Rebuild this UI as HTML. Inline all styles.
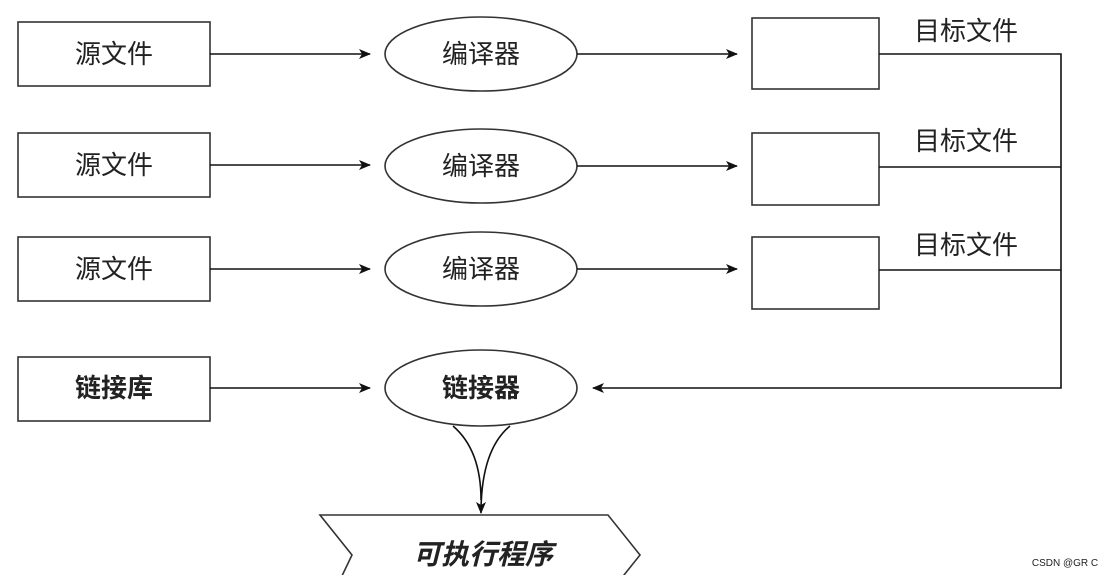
<!DOCTYPE html>
<html><head><meta charset="utf-8"><style>
body{margin:0;background:#fff;width:1108px;height:575px;overflow:hidden}
svg text{font-family:"Liberation Sans","Noto Sans CJK SC",sans-serif;fill:#222}
</style></head><body>
<svg width="1108" height="575" viewBox="0 0 1108 575" xmlns="http://www.w3.org/2000/svg">
<defs><marker id="a" markerWidth="12" markerHeight="10" refX="11" refY="5" orient="auto" markerUnits="userSpaceOnUse"><path d="M0,0 L12,5 L0,10 L3,5 Z" fill="#111"/></marker></defs>
<g stroke="#333" stroke-width="1.6" fill="#fff">
<rect x="18" y="22" width="192" height="64"/>
<rect x="18" y="133" width="192" height="64"/>
<rect x="18" y="237" width="192" height="64"/>
<rect x="18" y="357" width="192" height="64"/>
<ellipse cx="481" cy="54" rx="96" ry="37"/>
<ellipse cx="481" cy="166" rx="96" ry="37"/>
<ellipse cx="481" cy="269" rx="96" ry="37"/>
<ellipse cx="481" cy="388" rx="96" ry="38"/>
<rect x="752" y="18" width="127" height="71"/>
<rect x="752" y="133" width="127" height="72"/>
<rect x="752" y="237" width="127" height="72"/>
<polygon points="320,515 608,515 640,555 620,580 340,580 352,555"/>
</g>
<g stroke="#111" stroke-width="1.6" fill="none">
<line x1="210" y1="54" x2="370" y2="54" marker-end="url(#a)"/>
<line x1="210" y1="165" x2="370" y2="165" marker-end="url(#a)"/>
<line x1="210" y1="269" x2="370" y2="269" marker-end="url(#a)"/>
<line x1="210" y1="388" x2="370" y2="388" marker-end="url(#a)"/>
<line x1="577" y1="54" x2="737" y2="54" marker-end="url(#a)"/>
<line x1="577" y1="166" x2="737" y2="166" marker-end="url(#a)"/>
<line x1="577" y1="269" x2="737" y2="269" marker-end="url(#a)"/>
<path d="M879,54 H1061 V388 H593" marker-end="url(#a)"/>
<path d="M879,167 H1061 M879,270 H1061"/>
<path d="M453,426 Q481,450 481,500"/>
<path d="M510,426 Q481,450 481,513" marker-end="url(#a)"/>
</g>
<g font-size="26" text-anchor="middle">
<text x="114" y="63">源文件</text>
<text x="114" y="174">源文件</text>
<text x="114" y="278">源文件</text>
<text x="114" y="397" font-weight="bold">链接库</text>
<text x="481" y="63">编译器</text>
<text x="481" y="175">编译器</text>
<text x="481" y="278">编译器</text>
<text x="481" y="397" font-weight="bold">链接器</text>
<text x="966" y="40">目标文件</text>
<text x="966" y="150">目标文件</text>
<text x="966" y="254">目标文件</text>
<text x="483" y="564" font-weight="bold" font-style="italic" font-size="28">可执行程序</text>
</g>
<text x="1065" y="566" font-size="10" text-anchor="middle" fill="#666">CSDN @GR C</text>
</svg>
</body></html>
